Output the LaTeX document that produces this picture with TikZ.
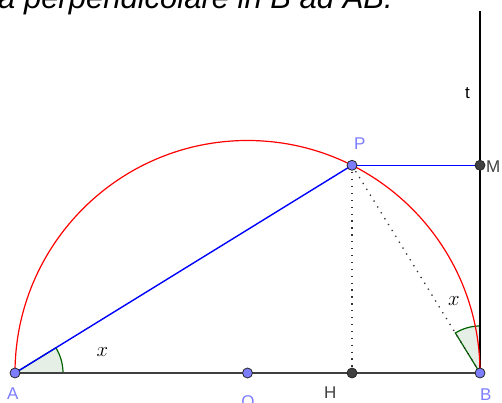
\documentclass[tikz,border=0pt]{standalone}
\usepackage{fontspec}
\setmainfont{Liberation Sans}
\usepackage{tikz}
\usetikzlibrary{calc}

\definecolor{ggblue}{RGB}{125,125,255}
\definecolor{ggdark}{RGB}{64,64,64}
\definecolor{ggred}{RGB}{255,0,0}
\definecolor{gggreen}{RGB}{0,100,0}
\definecolor{ggfill}{RGB}{229,239,229}

\begin{document}
\begin{tikzpicture}[
  x=1pt,y=1pt,
  lbl/.style={inner sep=0pt,anchor=base west,font=\fontsize{17}{17}\selectfont},
  freept/.style={circle,draw=black!85,line width=0.8pt,fill=ggblue,inner sep=0pt,minimum size=10pt},
  deppt/.style={freept,fill=ggdark},
  seg/.style={line width=1.6pt,ggdark},
  bluel/.style={line width=1.4pt,blue},
  dotl/.style={line width=1.3pt,dash pattern=on 1.3pt off 5.6pt,black!80},
  angsec/.style={draw=gggreen,fill=ggfill,line width=1.2pt}
]
  \useasboundingbox (0,0) rectangle (502,403);

  % points of the figure
  \coordinate (A) at (15,30);
  \coordinate (B) at (480,30);
  \coordinate (O) at (247.5,30);
  \coordinate (H) at (352,30);
  \coordinate (P) at (352,237.7);
  \coordinate (M) at (480,237.7);
  \coordinate (ttop) at (480,392);

  % title, cut by the page
  \node[inner sep=0pt,anchor=base west,font=\fontsize{31}{31}\selectfont\itshape] (title) at (-2,394) {a perpendicolare in B ad AB.};

  % angles
  \filldraw[angsec] (A) -- ++(0:48) arc[start angle=0,end angle=31.64,radius=48] -- cycle;
  \filldraw[angsec] (B) -- ++(90:47) arc[start angle=90,end angle=121.64,radius=47] -- cycle;

  % lines
  \draw[seg] (A) -- (B);
  \draw[line width=1.3pt,black] (B) -- (ttop);
  \draw[ggred,line width=1.2pt] (B) arc[start angle=0,end angle=180,radius=232.5];
  \draw[bluel] (A) -- (P);
  \draw[bluel] (P) -- (M);
  \draw[dotl] (P) -- (H);
  \draw[dotl] (P) -- (B);

  % markers
  \node[freept] (ptA) at (A) {};
  \node[freept] (ptB) at (B) {};
  \node[freept] (ptO) at (O) {};
  \node[freept] (ptP) at (P) {};
  \node[deppt] (ptH) at (H) {};
  \node[deppt] (ptM) at (M) {};

  % labels
  \node[lbl,text=ggblue] (labA) at (7,3) {A};
  \node[lbl,text=ggblue] (labB) at (480,2) {B};
  \node[lbl,text=ggblue,anchor=base] (labO) at (248,-5) {O};
  \node[lbl,text=ggblue] (labP) at (354,253) {P};
  \node[lbl,text=ggdark] (labH) at (324,4) {H};
  \node[lbl,text=ggdark] (labM) at (486,230) {M};
  \node[lbl] (labt) at (465,304) {t};
  \node[inner sep=0pt,font=\fontsize{20}{20}\selectfont] (xA) at (102.5,50.5) {$x$};
  \node[inner sep=0pt,font=\fontsize{20}{20}\selectfont] (xB) at (454,102) {$x$};
\end{tikzpicture}
\end{document}
